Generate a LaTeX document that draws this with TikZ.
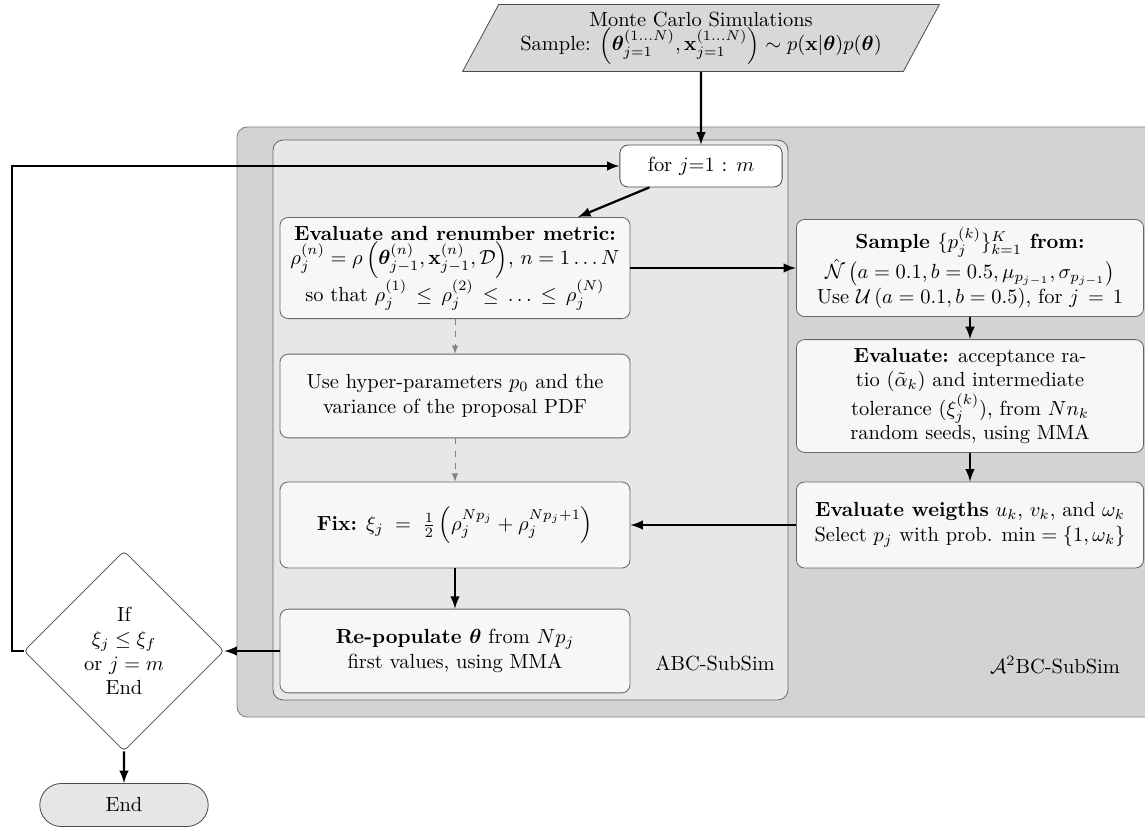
\documentclass[tikz,border=0pt]{standalone}
\usepackage{amsmath, amssymb, bm}
\usetikzlibrary{shapes.geometric, shapes.misc}

\definecolor{outergray}{RGB}{210,211,213}
\definecolor{innergray}{RGB}{230,231,232}
\definecolor{boxgray}{RGB}{247,247,247}
\definecolor{mcgray}{RGB}{216,216,216}
\definecolor{endgray}{RGB}{230,230,230}

\begin{document}
\begin{tikzpicture}[x=0.0172cm, y=-0.0172cm, >=latex,
	stepbox/.style={draw=black!60, fill=boxgray, rounded corners=4pt, align=center, minimum width=6.02cm},
	flow/.style={->, line width=1.1pt},
	hint/.style={->, dashed, draw=black!50, thin}]
			\useasboundingbox (0,0) rectangle (1145,827);
			% frames
			\draw[draw=black!50, fill=outergray, rounded corners=5pt] (237,127) rectangle (1175,717);
			\draw[draw=black!60, fill=innergray, rounded corners=5pt] (273,140) rectangle (788,700);
			\node at (715,663) {ABC-SubSim};
			\node at (1055,665) {$\mathcal{A}^2$BC-SubSim};
			% nodes
			\node[trapezium, trapezium left angle=60, trapezium right angle=120, trapezium stretches=true, draw=black!70, fill=mcgray, align=center, minimum width=8.2cm, minimum height=1.15cm, inner sep=1pt] (mc) at (701,38) {Monte Carlo Simulations\\ Sample: $\left(\bm{\theta}_{j=1}^{(1\ldots N)},\mathbf{x}_{j=1}^{(1\ldots N)}\right)\sim p(\mathbf{x}|\bm{\theta})p(\bm{\theta})$};
			\node[draw=black!70, fill=white, rounded corners=4pt, minimum width=2.79cm, minimum height=0.72cm] (for) at (701,166) {for $j$=1 : $m$};
			\node[stepbox, minimum height=1.74cm] (eval) at (455,268) {\textbf{Evaluate and renumber metric:}\\ $\rho_j^{(n)}=\rho\left(\bm{\theta}_{j-1}^{(n)},\mathbf{x}_{j-1}^{(n)},\mathcal{D}\right)$, $n=1\ldots N$\\ so that $\rho_j^{(1)}\,\leq\,\rho_j^{(2)}\,\leq\,\ldots\,\leq\,\rho_j^{(N)}$};
			\node[stepbox, minimum height=1.44cm] (hyper) at (455,396) {Use hyper-parameters $p_0$ and the\\ variance of the proposal PDF};
			\node[stepbox, minimum height=1.48cm] (fix) at (455,525) {\textbf{Fix:} $\xi_j\;=\;\frac{1}{2}\left(\rho_j^{Np_j}+\rho_j^{Np_j+1}\right)$};
			\node[stepbox, minimum height=1.44cm] (repop) at (455,651) {\textbf{Re-populate $\bm{\theta}$} from $Np_j$\\ first values, using MMA};
			\node[stepbox, minimum width=5.97cm, minimum height=1.67cm] (sample) at (970,268) {\textbf{Sample $\{p_j^{(k)}\}_{k=1}^K$ from:}\\ $\hat{\mathcal{N}}\left(a=0.1,b=0.5,\mu_{p_{j-1}},\sigma_{p_{j-1}}\right)$\\ Use $\mathcal{U}\left(a=0.1,b=0.5\right)$, for $j\,=\,1$};
			\node[stepbox, minimum width=5.97cm, minimum height=1.94cm] (acc) at (970,396) {\textbf{Evaluate:} acceptance ra-\\ tio ($\tilde{\alpha}_k$) and intermediate\\ tolerance ($\xi_j^{(k)}$), from $Nn_k$\\ random seeds, using MMA};
			\node[stepbox, minimum width=5.97cm, minimum height=1.48cm] (weights) at (970,525) {\textbf{Evaluate weigths} $u_k$, $v_k$, and $\omega_k$\\ Select $p_j$ with prob. $\min=\{1,\omega_k\}$};
			\node[diamond, draw=black!70, fill=white, rounded corners=2pt, aspect=1, minimum size=3.44cm, inner sep=0pt, align=center] (check) at (124,651) {If\\ $\xi_j\leq\xi_f$\\ or $j=m$\\ End};
			\node[rounded rectangle, draw=black!70, fill=endgray, minimum width=3.13cm, minimum height=0.74cm] (end) at (124,805) {End};
			\coordinate (lp) at (12,651);
			% connectors
			\draw[flow] (mc) -- (for);
			\draw[flow] (for) -- (eval);
			\draw[flow] (eval) -- (sample);
			\draw[hint] (eval) -- (hyper);
			\draw[hint] (hyper) -- (fix);
			\draw[flow] (sample) -- (acc);
			\draw[flow] (acc) -- (weights);
			\draw[flow] (weights) -- (fix);
			\draw[flow] (fix) -- (repop);
			\draw[flow] (repop) -- (check);
			\draw[flow] (check.west) -- (lp) |- (for.west);
			\draw[flow] (check) -- (end);
			\end{tikzpicture}
\end{document}
